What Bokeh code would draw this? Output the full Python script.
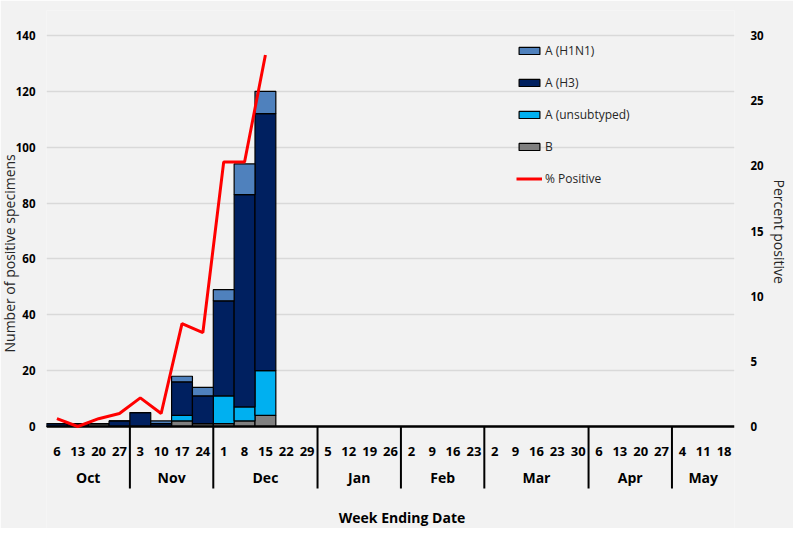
from bokeh.plotting import figure
from bokeh.models import Range1d, LinearAxis, FixedTicker, Legend, LegendItem, ColumnDataSource, Title
from bokeh.core.properties import value
from bokeh.embed import file_html
from bokeh.resources import INLINE

# ---------------- data ----------------
months = ["Oct", "Nov", "Dec", "Jan", "Feb", "Mar", "Apr", "May"]
weeks_in_month = [4, 4, 5, 4, 4, 5, 4, 3]
week_days = ["6", "13", "20", "27", "3", "10", "17", "24", "1", "8", "15", "22", "29",
             "5", "12", "19", "26", "2", "9", "16", "23", "2", "9", "16", "23", "30",
             "6", "13", "20", "27", "4", "11", "18"]

b_counts = [0, 0, 1, 0, 0, 0, 2, 1, 1, 2, 4]
unsub_counts = [0, 0, 0, 0, 0, 0, 2, 0, 10, 5, 16]
h3_counts = [1, 1, 0, 2, 5, 1, 12, 10, 34, 76, 92]
h1n1_counts = [0, 0, 0, 0, 0, 1, 2, 3, 4, 11, 8]
pct_positive = [0.6, 0.0, 0.6, 1.0, 2.2, 1.0, 7.9, 7.2, 20.3, 20.3, 28.5]

left_ticks = [0, 20, 40, 60, 80, 100, 120, 140]
right_ticks = [0, 5, 10, 15, 20, 25, 30]

series_labels = ["A (H1N1)", "A (H3)", "A (unsubtyped)", "B"]
line_label = "% Positive"
x_title = "Week Ending Date"
y_title = "Number of positive specimens"
y2_title = "Percent positive"

# ---------------- layout ----------------
W, H = 793, 528
PAGE = 8
frame_left, frame_right_px = 54, 743          # page px
frame_top, frame_bottom = 18, PAGE + H        # page px
zero_px, top_tick_px = 434, 43                # page px of 0 and 140
upp = left_ticks[-1] / (zero_px - top_tick_px)  # units per pixel (left axis)
rscale = right_ticks[-1] / left_ticks[-1]

def yv(page_y):
    return (zero_px - page_y) * upp

y_top = yv(frame_top)
y_bot = yv(frame_bottom)

n_weeks = len(week_days)
BG = "#f2f2f2"

p = figure(width=W, height=H, output_backend="svg", toolbar_location=None,
           x_range=Range1d(0, n_weeks), y_range=Range1d(y_bot, y_top),
           x_axis_location=None, y_axis_location=None,
           min_border_left=frame_left - PAGE, min_border_right=W - (frame_right_px - PAGE),
           min_border_top=frame_top - PAGE, min_border_bottom=0)
p.background_fill_color = BG
p.border_fill_color = BG
p.outline_line_color = None
p.extra_y_ranges = {"pct": Range1d(y_bot * rscale, y_top * rscale)}

# axes
lax = LinearAxis(ticker=FixedTicker(ticks=left_ticks))
rax = LinearAxis(ticker=FixedTicker(ticks=right_ticks), y_range_name="pct")
for ax in (lax, rax):
    ax.axis_line_color = None
    ax.major_tick_line_color = None
    ax.minor_tick_line_color = None
    ax.major_tick_out = 0
    ax.major_tick_in = 0
    ax.major_label_text_font = "Open Sans"
    ax.major_label_text_font_style = "bold"
    ax.major_label_text_font_size = "11.5px"
    ax.major_label_text_color = "#000000"
lax.major_label_standoff = 11
rax.major_label_standoff = 16
p.add_layout(lax, "left")
p.add_layout(rax, "right")

# axis titles as side titles (aligned along the frame)
p.add_layout(Title(text=y_title, align="left", offset=frame_bottom - 360, standoff=-13,
                   text_font="Open Sans", text_font_size="14px", text_font_style="normal",
                   text_color="#262626"), "left")
p.add_layout(Title(text=y2_title, align="left", offset=187 - frame_top, standoff=6,
                   text_font="Open Sans", text_font_size="14px", text_font_style="normal",
                   text_color="#262626"), "right")

p.xgrid.visible = False
p.ygrid.ticker = FixedTicker(ticks=left_ticks)
p.ygrid.grid_line_color = "#d9d9d9"
p.ygrid.grid_line_width = 1.5

# bars
xs = [i + 0.5 for i in range(len(h3_counts))]
src = ColumnDataSource(dict(x=xs, b=b_counts, unsub=unsub_counts, h3=h3_counts, h1n1=h1n1_counts))
bar_colors = ["#808080", "#00b0f0", "#002060", "#4f81bd"]
rs = p.vbar_stack(["b", "unsub", "h3", "h1n1"], x="x", width=1.0, source=src,
                  fill_color=bar_colors, line_color="#000000", line_width=1.2)

# baseline
p.segment(x0=[0], y0=[0], x1=[n_weeks], y1=[0], line_color="#000000", line_width=2.5)

# month separators
bounds = []
acc = 0
for n in weeks_in_month[:-1]:
    acc += n
    bounds.append(acc)
sep_bottom = yv(496)
p.segment(x0=bounds, y0=[0] * len(bounds), x1=bounds, y1=[sep_bottom] * len(bounds),
          line_color="#000000", line_width=2)

# percent positive line
lr = p.line(x=xs[:len(pct_positive)], y=pct_positive, y_range_name="pct",
            line_color="#ff0000", line_width=3)

# day labels
p.text(x=[i + 0.5 for i in range(n_weeks)], y=[yv(459)] * n_weeks, text=week_days,
       text_font=value("Open Sans"), text_font_style="bold", text_font_size="13px",
       text_align="center", text_baseline="middle", text_color="#000000")

# month labels
centers = []
acc = 0
for n in weeks_in_month:
    centers.append(acc + n / 2)
    acc += n
p.text(x=centers, y=[yv(485)] * len(months), text=months,
       text_font=value("Open Sans"), text_font_style="bold", text_font_size="14px",
       text_align="center", text_baseline="middle", text_color="#000000")

# x-axis title
px_per_week = (frame_right_px - frame_left) / n_weeks
p.text(x=[(410 - frame_left) / px_per_week], y=[yv(525)], text=[x_title],
       text_font=value("Open Sans"), text_font_style="bold", text_font_size="14px",
       text_align="center", text_baseline="middle", text_color="#000000")

# legend
legend = Legend(items=[LegendItem(label=series_labels[0], renderers=[rs[3]]),
                       LegendItem(label=series_labels[1], renderers=[rs[2]]),
                       LegendItem(label=series_labels[2], renderers=[rs[1]]),
                       LegendItem(label=series_labels[3], renderers=[rs[0]]),
                       LegendItem(label=line_label, renderers=[lr])],
                location=(524 - frame_left, frame_bottom - 196),
                glyph_width=26, glyph_height=9, label_standoff=3, spacing=12,
                label_height=20, padding=0, margin=0,
                background_fill_alpha=0, border_line_alpha=0,
                label_text_font="Open Sans", label_text_font_size="12px",
                label_text_color="#262626")
p.add_layout(legend)

open("out.html", "w").write(file_html(p, INLINE))
